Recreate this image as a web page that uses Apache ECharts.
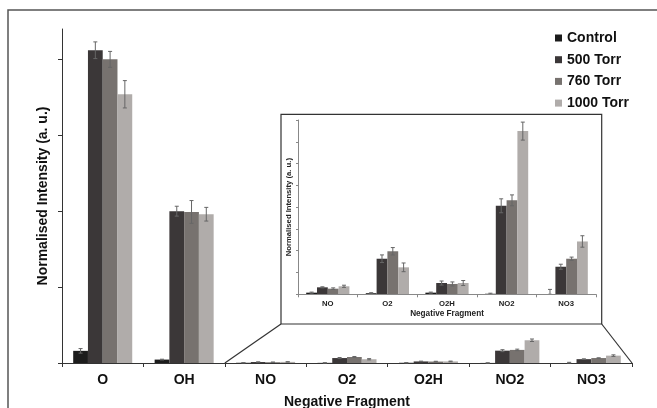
<!DOCTYPE html>
<html><head><meta charset="utf-8">
<script src="https://cdn.jsdelivr.net/npm/echarts@6/dist/echarts.min.js"></script>
<style>html,body{margin:0;padding:0;background:#fff}#c{width:657px;height:408px}</style>
</head><body><div id="c"></div>
<script>
// ---- data ----
const categories = ['O', 'OH', 'NO', 'O2', 'O2H', 'NO2', 'NO3'];
const insetStart = 2; // inset shows NO..NO3
const seriesNames = ['Control', '500 Torr', '760 Torr', '1000 Torr'];
const control  = [0.16, 0.045, 0.003, 0.002, 0.003, 0.001, 0.0];
const torr500  = [4.12, 2.00, 0.0128, 0.0653, 0.0207, 0.1625, 0.0506];
const torr760  = [4.00, 1.99, 0.0103, 0.0790, 0.0190, 0.1725, 0.0653];
const torr1000 = [3.54, 1.96, 0.0147, 0.0495, 0.0207, 0.2996, 0.0970];
const controlErr  = [0.03, 0.005, 0.001, 0.001, 0.001, 0.001, 0.009];
const torr500Err  = [0.11, 0.065, 0.001, 0.007, 0.0037, 0.0128, 0.0046];
const torr760Err  = [0.105, 0.15, 0.0015, 0.0068, 0.0037, 0.010, 0.003];
const torr1000Err = [0.18, 0.09, 0.002, 0.008, 0.0046, 0.0165, 0.0105];
const mainTicks = [0, 1, 2, 3, 4];
const mainMax = 4.4;
const insetInterval = 0.04;
const insetMax = 0.32;

// ---- styling / layout ----
const colors = ['#1c1c1c', '#3b3738', '#77726f', '#b0acaa'];
const values = [control, torr500, torr760, torr1000];
const errs = [controlErr, torr500Err, torr760Err, torr1000Err];
const FONT = 'Liberation Sans, Arial, sans-serif';
const gapRatio = 0.275;
const mainGrid = {left: 62, right: 25, top: 29, bottom: 45};
const insetGrid = {left: 298, right: 61, top: 120, bottom: 113.7};
const W = 657, H = 408;

function errRender(sIdx) {
  return function (params, api) {
    const x = api.value(0), v = api.value(1), e = api.value(2);
    const band = api.size([1, 0])[0];
    const bw = band * (1 - gapRatio) / 4;
    const c = api.coord([x, v]);
    const cx = c[0] + (sIdx - 1.5) * bw;
    const hi = api.coord([x, v + e])[1];
    const lo = api.coord([x, Math.max(v - e, 0)])[1];
    const cap = 2;
    const st = {stroke: '#666', lineWidth: 1};
    return {type: 'group', children: [
      {type: 'line', shape: {x1: cx, y1: hi, x2: cx, y2: lo}, style: st},
      {type: 'line', shape: {x1: cx - cap, y1: hi, x2: cx + cap, y2: hi}, style: st},
      {type: 'line', shape: {x1: cx - cap, y1: lo, x2: cx + cap, y2: lo}, style: st}
    ]};
  };
}

const series = [];
for (let s = 0; s < 4; s++) {
  series.push({
    name: seriesNames[s], type: 'bar', xAxisIndex: 0, yAxisIndex: 0,
    data: values[s], barGap: '0%', barCategoryGap: (gapRatio * 100) + '%',
    itemStyle: {color: colors[s]}, silent: true
  });
  series.push({
    name: 'err-main-' + s, type: 'custom', xAxisIndex: 0, yAxisIndex: 0, z: 3,
    data: values[s].map((v, i) => [i, v, errs[s][i]]),
    encode: {x: 0, y: 1}, renderItem: errRender(s), silent: true, clip: false
  });
  series.push({
    name: seriesNames[s], type: 'bar', xAxisIndex: 1, yAxisIndex: 1,
    data: values[s].slice(insetStart), barGap: '0%', barCategoryGap: (gapRatio * 100) + '%',
    itemStyle: {color: colors[s]}, silent: true, z: 5
  });
  series.push({
    name: 'err-inset-' + s, type: 'custom', xAxisIndex: 1, yAxisIndex: 1, z: 6,
    data: values[s].slice(insetStart).map((v, i) => [i, v, errs[s][i + insetStart]]),
    encode: {x: 0, y: 1}, renderItem: errRender(s), silent: true, clip: false
  });
}

// decorations: outer frame, inset frame, connector lines
const mainW = W - mainGrid.left - mainGrid.right;
const band = mainW / categories.length;
const baseY = H - mainGrid.bottom;
const insetFrame = {x: 281, y: 114.3, w: 320.7, h: 209.7};
const graphics = [
  {type: 'polyline', shape: {points: [[8, H + 5], [8, 10], [W + 5, 10]]}, style: {stroke: '#555', lineWidth: 1.5, fill: null}, z: 0, silent: true},
  {type: 'rect', shape: {x: insetFrame.x, y: insetFrame.y, width: insetFrame.w, height: insetFrame.h},
   style: {fill: '#fff', stroke: '#333', lineWidth: 1.2}, z: 1, silent: true},
  {type: 'line', shape: {x1: mainGrid.left + band * insetStart, y1: baseY, x2: insetFrame.x, y2: insetFrame.y + insetFrame.h},
   style: {stroke: '#333', lineWidth: 1.2}, z: 1, silent: true},
  {type: 'line', shape: {x1: W - mainGrid.right, y1: baseY, x2: insetFrame.x + insetFrame.w, y2: insetFrame.y + insetFrame.h},
   style: {stroke: '#333', lineWidth: 1.2}, z: 1, silent: true}
];

const option = {
  animation: false,
  backgroundColor: '#fff',
  textStyle: {fontFamily: FONT},
  legend: {
    data: seriesNames, orient: 'vertical', left: 550, top: 26, itemGap: 7.7,
    itemWidth: 7, itemHeight: 7, icon: 'rect', selectedMode: false,
    textStyle: {fontFamily: FONT, fontSize: 14, fontWeight: 'bold', color: '#111'}
  },
  grid: [
    Object.assign({containLabel: false, outerBoundsMode: 'none'}, mainGrid),
    Object.assign({containLabel: false, outerBoundsMode: 'none', z: 4}, insetGrid)
  ],
  xAxis: [
    {type: 'category', gridIndex: 0, data: categories,
     axisLine: {lineStyle: {color: '#333', width: 1}},
     axisTick: {show: true, interval: 0, length: 4, lineStyle: {color: '#333'}},
     axisLabel: {fontFamily: FONT, fontSize: 14, fontWeight: 'bold', color: '#111', margin: 10},
     name: 'Negative Fragment', nameLocation: 'middle', nameGap: 32,
     nameTextStyle: {fontFamily: FONT, fontSize: 14, fontWeight: 'bold', color: '#111'}},
    {type: 'category', gridIndex: 1, data: categories.slice(insetStart), z: 6,
     axisLine: {lineStyle: {color: '#888', width: 1}},
     axisTick: {show: true, interval: 0, length: 3, lineStyle: {color: '#888'}},
     axisLabel: {fontFamily: FONT, fontSize: 7.7, fontWeight: 'bold', color: '#222', margin: 6},
     name: 'Negative Fragment', nameLocation: 'middle', nameGap: 15,
     nameTextStyle: {fontFamily: FONT, fontSize: 8.2, fontWeight: 'bold', color: '#222'}}
  ],
  yAxis: [
    {type: 'value', gridIndex: 0, min: 0, max: mainMax,
     axisLine: {show: true, lineStyle: {color: '#333', width: 1}},
     axisTick: {show: true, length: 4, customValues: mainTicks, lineStyle: {color: '#333'}},
     axisLabel: {show: false, customValues: mainTicks},
     splitLine: {show: false},
     name: 'Normalised Intensity (a. u.)', nameLocation: 'middle', nameGap: 12,
     nameTextStyle: {fontFamily: FONT, fontSize: 14, fontWeight: 'bold', color: '#111'}},
    {type: 'value', gridIndex: 1, min: 0, max: insetMax, interval: insetInterval, z: 6,
     axisLine: {show: true, lineStyle: {color: '#888', width: 1}},
     axisTick: {show: true, length: 2, lineStyle: {color: '#888'}},
     axisLabel: {show: false}, splitLine: {show: false},
     name: 'Normalised Intensity (a. u.)', nameLocation: 'middle', nameGap: 5,
     nameTextStyle: {fontFamily: FONT, fontSize: 7.7, fontWeight: 'bold', color: '#222'}}
  ],
  graphic: {elements: graphics},
  series: series
};
const chart = echarts.init(document.getElementById('c'), null, {renderer: 'canvas'});
chart.setOption(option);
</script>
</body></html>
